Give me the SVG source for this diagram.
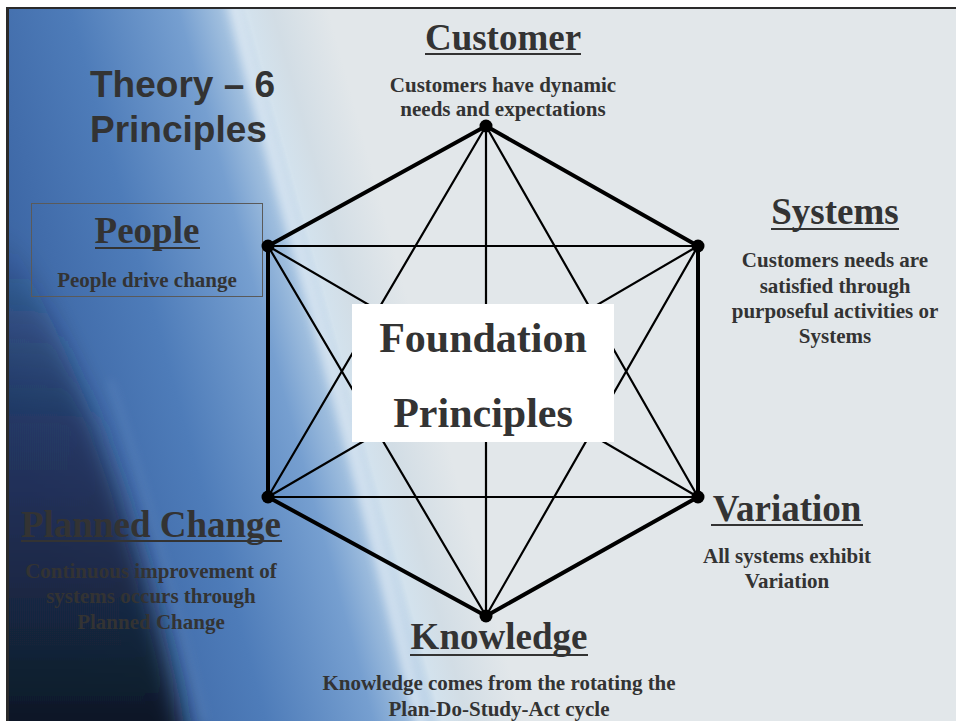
<svg xmlns="http://www.w3.org/2000/svg" width="956" height="721" viewBox="0 0 956 721">
  <defs>
    <linearGradient id="bgSweep" gradientUnits="userSpaceOnUse" x1="0" y1="380" x2="400" y2="270">
      <stop offset="0" stop-color="#365e9d"/>
      <stop offset="0.4" stop-color="#4e7cb9"/>
      <stop offset="0.65" stop-color="#769fd0"/>
      <stop offset="0.77" stop-color="#abc7e2"/>
      <stop offset="0.81" stop-color="#d3e2ed"/>
      <stop offset="0.87" stop-color="#d2dde5"/>
      <stop offset="1" stop-color="#e2e7ea"/>
    </linearGradient>
    <linearGradient id="shade" gradientUnits="userSpaceOnUse" x1="0" y1="230" x2="0" y2="721">
      <stop offset="0" stop-color="#10182a" stop-opacity="0"/>
      <stop offset="0.4" stop-color="#18274a" stop-opacity="0.7"/>
      <stop offset="1" stop-color="#111827" stop-opacity="1"/>
    </linearGradient>
    <filter id="soft" filterUnits="userSpaceOnUse" x="-150" y="-50" width="600" height="900">
      <feGaussianBlur stdDeviation="12"/>
    </filter>
    <filter id="glow" filterUnits="userSpaceOnUse" x="-50" y="-50" width="700" height="900">
      <feGaussianBlur stdDeviation="5"/>
    </filter>
    <clipPath id="panel">
      <rect x="9" y="9" width="947" height="712"/>
    </clipPath>
    <style>
      .edge { stroke: #000; stroke-width: 4; stroke-linecap: round; }
      .diag { stroke: #000; stroke-width: 2.2; stroke-linecap: round; }
      .dot { fill: #000; }
      .head { font-family: "Liberation Serif", "Times New Roman", serif; font-weight: bold; font-size: 37px; fill: #333; text-anchor: middle; }
      .desc { font-family: "Liberation Serif", "Times New Roman", serif; font-weight: bold; font-size: 21px; fill: #333; text-anchor: middle; }
      .uline { stroke: #333; stroke-width: 2; }
      .title { font-family: "Liberation Sans", Arial, sans-serif; font-weight: bold; font-size: 37px; fill: #333; }
      .center { font-family: "Liberation Serif", "Times New Roman", serif; font-weight: bold; font-size: 42px; fill: #333; text-anchor: middle; }
    </style>
  </defs>

  <!-- slide frame -->
  <rect x="0" y="0" width="956" height="721" fill="#fff"/>
  <rect x="6" y="7" width="950" height="714" fill="#2a2a2a"/>

  <!-- background sweep -->
  <g clip-path="url(#panel)">
    <rect x="9" y="9" width="947" height="712" fill="url(#bgSweep)"/>
    <path d="M-60,120 C50,290 135,480 200,800 L-60,800 Z" fill="url(#shade)" filter="url(#soft)"/>
    <path d="M110,380 C140,470 175,600 205,721" fill="none" stroke="#6d93c8" stroke-width="4" opacity="0.45" filter="url(#glow)"/>
    <path d="M232,0 C270,160 350,420 425,740" fill="none" stroke="#f4f8fb" stroke-width="12" opacity="0.55" filter="url(#glow)"/>
  </g>

  <!-- title -->
  <g id="title">
    <text class="title" x="90" y="97">Theory – 6</text>
    <text class="title" x="90" y="142">Principles</text>
  </g>

  <!-- connectors: hexagon rim and internal chords -->
  <g id="connectors">
    <line class="edge" x1="486" y1="126" x2="698" y2="246"/>
    <line class="edge" x1="698" y1="246" x2="698" y2="497"/>
    <line class="edge" x1="698" y1="497" x2="486" y2="616"/>
    <line class="edge" x1="486" y1="616" x2="268" y2="497"/>
    <line class="edge" x1="268" y1="497" x2="268" y2="246"/>
    <line class="edge" x1="268" y1="246" x2="486" y2="126"/>
    <line class="diag" x1="486" y1="126" x2="486" y2="616"/>
    <line class="diag" x1="486" y1="126" x2="268" y2="497"/>
    <line class="diag" x1="486" y1="126" x2="698" y2="497"/>
    <line class="diag" x1="268" y1="246" x2="698" y2="246"/>
    <line class="diag" x1="268" y1="246" x2="698" y2="497"/>
    <line class="diag" x1="268" y1="246" x2="486" y2="616"/>
    <line class="diag" x1="698" y1="246" x2="268" y2="497"/>
    <line class="diag" x1="698" y1="246" x2="486" y2="616"/>
    <line class="diag" x1="268" y1="497" x2="698" y2="497"/>
  </g>

  <!-- central label -->
  <g id="foundation">
    <rect x="352" y="304" width="262" height="138" fill="#fff"/>
    <text class="center" x="483" y="352">Foundation</text>
    <text class="center" x="483" y="427">Principles</text>
  </g>

  <g id="customer">
    <circle class="dot" cx="486" cy="126" r="6.5"/>
    <text class="head" x="503" y="50">Customer</text>
    <line class="uline" x1="425" y1="54" x2="581" y2="54"/>
    <text class="desc" x="503" y="92">Customers have dynamic</text>
    <text class="desc" x="503" y="116">needs and expectations</text>
  </g>

  <g id="systems">
    <circle class="dot" cx="698" cy="246" r="6.5"/>
    <text class="head" x="835" y="224">Systems</text>
    <line class="uline" x1="771" y1="229" x2="899" y2="229"/>
    <text class="desc" x="835" y="267">Customers needs are</text>
    <text class="desc" x="835" y="293">satisfied through</text>
    <text class="desc" x="835" y="318">purposeful activities or</text>
    <text class="desc" x="835" y="343">Systems</text>
  </g>

  <g id="variation">
    <circle class="dot" cx="698" cy="497" r="6.5"/>
    <text class="head" x="787" y="521">Variation</text>
    <line class="uline" x1="711" y1="525" x2="863" y2="525"/>
    <text class="desc" x="787" y="563">All systems exhibit</text>
    <text class="desc" x="787" y="588">Variation</text>
  </g>

  <g id="knowledge">
    <circle class="dot" cx="486" cy="616" r="6.5"/>
    <text class="head" x="499" y="649">Knowledge</text>
    <line class="uline" x1="410" y1="655" x2="588" y2="655"/>
    <text class="desc" x="499" y="690">Knowledge comes from the rotating the</text>
    <text class="desc" x="499" y="716">Plan-Do-Study-Act cycle</text>
  </g>

  <g id="planned-change">
    <circle class="dot" cx="268" cy="497" r="6.5"/>
    <text class="head" x="151" y="537">Planned Change</text>
    <line class="uline" x1="21" y1="541" x2="282" y2="541"/>
    <text class="desc" x="151" y="578">Continuous improvement of</text>
    <text class="desc" x="151" y="603">systems occurs through</text>
    <text class="desc" x="151" y="629">Planned Change</text>
  </g>

  <g id="people">
    <rect x="31.5" y="203.5" width="231" height="93" fill="none" stroke="#5a5a5a" stroke-width="1"/>
    <circle class="dot" cx="268" cy="246" r="6.5"/>
    <text class="head" x="147" y="243">People</text>
    <line class="uline" x1="95" y1="248" x2="200" y2="248"/>
    <text class="desc" x="147" y="287">People drive change</text>
  </g>
</svg>
